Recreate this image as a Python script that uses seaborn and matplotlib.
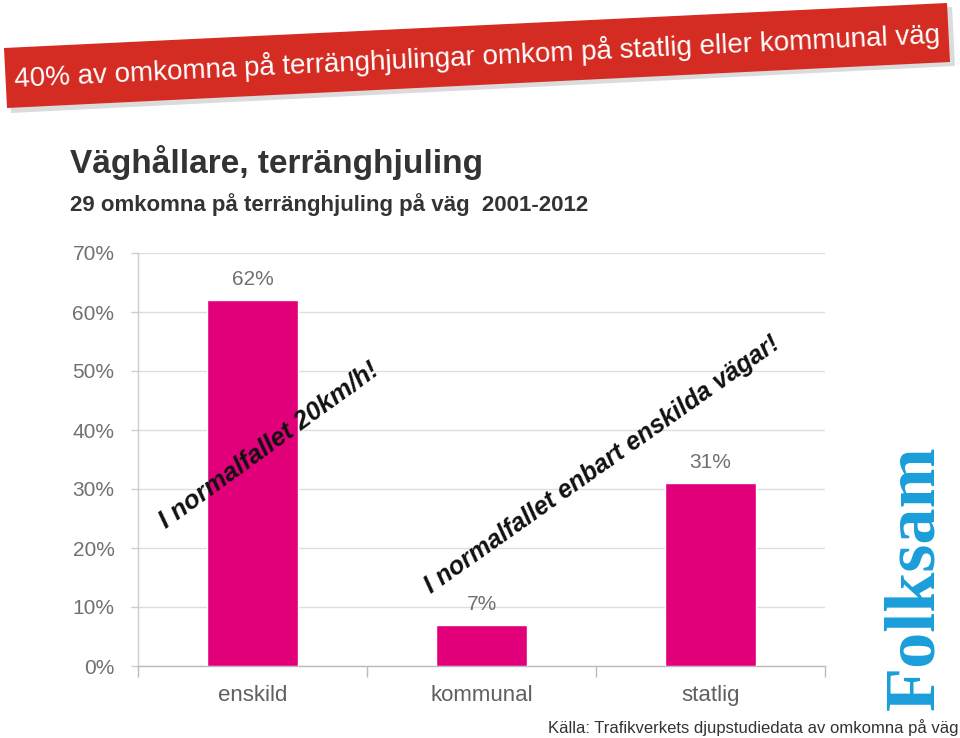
import matplotlib
matplotlib.use("Agg")
import matplotlib.pyplot as plt
import matplotlib.patches as mpatches
import seaborn as sns
import pandas as pd
import numpy as np

categories = ["enskild", "kommunal", "statlig"]
shares = [0.62, 0.07, 0.31]
value_labels = ["62%", "7%", "31%"]
ytick_values = [0, 0.1, 0.2, 0.3, 0.4, 0.5, 0.6, 0.7]
ytick_labels = ["0%", "10%", "20%", "30%", "40%", "50%", "60%", "70%"]

banner_text = "40% av omkomna på terränghjulingar omkom på statlig eller kommunal väg"
title_text = "Väghållare, terränghjuling"
subtitle_text = "29 omkomna på terränghjuling på väg  2001-2012"
note1 = "I normalfallet 20km/h!"
note2 = "I normalfallet enbart enskilda vägar!"
source_text = "Källa: Trafikverkets djupstudiedata av omkomna på väg"
logo_text = "Folksam"

df = pd.DataFrame({"cat": categories, "val": shares})

sns.set_theme(style="white")
plt.rcParams["font.family"] = ["Liberation Sans", "DejaVu Sans"]

W, H = 960, 738
fig = plt.figure(figsize=(W / 100, H / 100), dpi=100)
fig.patch.set_facecolor("white")

def fx(x):
    return x / W

def fy(y):
    return 1 - y / H

ax = fig.add_axes([fx(138), fy(666), 687 / W, 413 / H])
sns.barplot(data=df, x="cat", y="val", color="#E2007A", width=0.4,
            saturation=1, ax=ax, zorder=3)
ax.set_xlim(-0.5, 2.5)
ax.set_ylim(0, 0.7)
ax.set_yticks(ytick_values)
ax.set_yticklabels(ytick_labels)
ax.set_xlabel("")
ax.set_ylabel("")
ax.yaxis.grid(True, color="#DDDDDD", linewidth=1.0, zorder=0)
ax.set_axisbelow(True)
for s in ["top", "right"]:
    ax.spines[s].set_visible(False)
ax.spines["left"].set_color("#CCCCCC")
ax.spines["bottom"].set_color("#BBBBBB")
ax.spines["left"].set_linewidth(1.0)
ax.spines["bottom"].set_linewidth(1.0)
ax.tick_params(axis="y", which="major", left=True, length=5, width=1,
               color="#CCCCCC", labelsize=15, labelcolor="#707070", pad=12)
ax.tick_params(axis="x", which="major", bottom=False, length=0,
               labelsize=16, labelcolor="#606060", pad=14)
ax.set_xticks([-0.5, 0.5, 1.5, 2.5], minor=True)
ax.tick_params(axis="x", which="minor", bottom=True, length=8, width=1,
               color="#BBBBBB", direction="out")

for i, (v, lab) in enumerate(zip(shares, value_labels)):
    ax.annotate(lab, (i, v), xytext=(0, 8), textcoords="offset points",
                ha="center", va="bottom", fontsize=15, color="#707070")

# overlay axes in pixel coordinates
ang = np.degrees(np.arctan2(45, 943))
ov = fig.add_axes([0, 0, 1, 1], zorder=10)
ov.set_xlim(0, W)
ov.set_ylim(H, 0)
ov.axis("off")
ov.patch.set_alpha(0)
poly_shadow = mpatches.Polygon([(8, 52), (952, 7), (955, 66), (11, 113)],
                               closed=True, facecolor="#999999", alpha=0.35,
                               edgecolor="none")
ov.add_patch(poly_shadow)
poly = mpatches.Polygon([(4, 48), (947, 3), (950, 62), (7, 108)],
                        closed=True, facecolor="#D42B22", edgecolor="none")
ov.add_patch(poly)
ov.text(477, 56, banner_text, rotation=ang, rotation_mode="anchor",
        ha="center", va="center", color="white", fontsize=20)

# titles
fig.text(fx(70), fy(163), title_text, ha="left", va="center",
         fontsize=24, fontweight="bold", color="#333333")
fig.text(fx(70), fy(205), subtitle_text, ha="left", va="center",
         fontsize=16, fontweight="bold", color="#333333")

# notes
ov.text(269, 445, note1, rotation=36, rotation_mode="anchor",
        ha="center", va="center", color="#111111", fontsize=18.5,
        fontweight="bold", fontstyle="italic")
ov.text(602, 465, note2, rotation=35.2, rotation_mode="anchor",
        ha="center", va="center", color="#111111", fontsize=18,
        fontweight="bold", fontstyle="italic")

# logo
ov.text(916, 578, logo_text, rotation=90, rotation_mode="anchor",
        ha="center", va="center", color="#1A9ED9", fontsize=52,
        fontweight="bold", family=["Liberation Serif", "DejaVu Serif"])

# source
fig.text(fx(958), fy(728), source_text, ha="right", va="center",
         fontsize=12, color="#333333")

fig.savefig("out.png", dpi=100, facecolor="white")
